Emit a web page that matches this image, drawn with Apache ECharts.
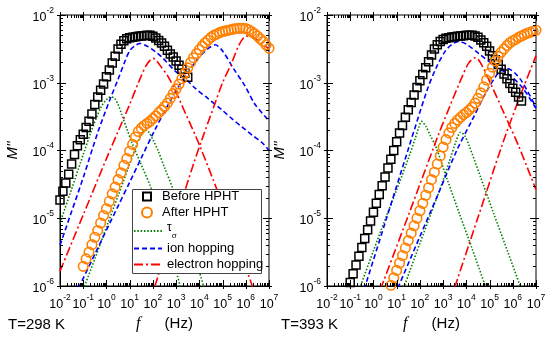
<!DOCTYPE html>
<html><head><meta charset="utf-8">
<script src="https://cdn.jsdelivr.net/npm/echarts@6/dist/echarts.min.js"></script>
<style>html,body{margin:0;padding:0;background:#fff}#c{width:550px;height:341px}</style>
</head><body><div id="c"></div>
<script>
// All pairs are [log10 f (Hz), log10 M'']
// ---- T = 298 K ----
const before298 = [[-2.000,-4.73],[-1.875,-4.60],[-1.750,-4.48],[-1.625,-4.35],[-1.500,-4.20],[-1.375,-4.06],[-1.250,-3.93],[-1.125,-3.84],[-1.000,-3.76],[-0.875,-3.66],[-0.750,-3.57],[-0.625,-3.46],[-0.500,-3.32],[-0.375,-3.21],[-0.250,-3.11],[-0.125,-3.02],[0.000,-2.91],[0.125,-2.81],[0.250,-2.71],[0.375,-2.61],[0.500,-2.50],[0.625,-2.43],[0.750,-2.38],[0.875,-2.35],[1.000,-2.335],[1.125,-2.33],[1.250,-2.32],[1.375,-2.315],[1.500,-2.31],[1.625,-2.305],[1.750,-2.30],[1.875,-2.30],[2.000,-2.315],[2.125,-2.34],[2.250,-2.375],[2.375,-2.415],[2.500,-2.46],[2.625,-2.52],[2.750,-2.575],[2.875,-2.62],[3.000,-2.68],[3.125,-2.74],[3.250,-2.80],[3.375,-2.86],[3.500,-2.92]];
const after298 = [[-1.000,-5.71],[-0.875,-5.60],[-0.750,-5.50],[-0.625,-5.39],[-0.500,-5.28],[-0.375,-5.18],[-0.250,-5.07],[-0.125,-4.96],[0.000,-4.86],[0.125,-4.75],[0.250,-4.64],[0.375,-4.54],[0.500,-4.43],[0.625,-4.33],[0.750,-4.22],[0.875,-4.12],[1.000,-4.01],[1.125,-3.91],[1.250,-3.80],[1.375,-3.72],[1.500,-3.67],[1.625,-3.63],[1.750,-3.60],[1.875,-3.57],[2.000,-3.53],[2.125,-3.49],[2.250,-3.44],[2.375,-3.40],[2.500,-3.35],[2.625,-3.30],[2.750,-3.23],[2.875,-3.16],[3.000,-3.09],[3.125,-3.02],[3.250,-2.94],[3.375,-2.86],[3.500,-2.78],[3.625,-2.70],[3.750,-2.63],[3.875,-2.57],[4.000,-2.51],[4.125,-2.46],[4.250,-2.41],[4.375,-2.37],[4.500,-2.33],[4.625,-2.30],[4.750,-2.28],[4.875,-2.26],[5.000,-2.245],[5.125,-2.235],[5.250,-2.225],[5.375,-2.215],[5.500,-2.205],[5.625,-2.20],[5.750,-2.195],[5.875,-2.195],[6.000,-2.20],[6.125,-2.22],[6.250,-2.245],[6.375,-2.275],[6.500,-2.31],[6.625,-2.35],[6.750,-2.39],[6.875,-2.44],[7.000,-2.49]];
const tauBefore298 = [[-2.0,-5.07],[-1.5,-4.57],[-1.0,-4.06],[-0.65,-3.71],[-0.4,-3.49],[-0.2,-3.34],[0.0,-3.25],[0.12,-3.215],[0.23,-3.21],[0.35,-3.23],[0.5,-3.32],[0.66,-3.47],[0.9,-3.70],[1.09,-3.88],[1.45,-4.17],[1.95,-4.58],[2.5,-5.18],[3.0,-5.78],[3.2,-6.03]];
const tauAfter298 = [[-1.0,-6.05],[-0.5,-5.60],[0.0,-5.13],[0.5,-4.67],[1.0,-4.20],[1.3,-3.92],[1.5,-3.76],[1.65,-3.70],[1.8,-3.72],[2.0,-3.84],[2.22,-4.00],[2.5,-4.25],[2.88,-4.58],[3.3,-5.0],[3.75,-5.5],[4.2,-6.02]];
const ionBefore298 = [[-2.0,-5.40],[-1.5,-4.90],[-1.0,-4.40],[-0.36,-3.72],[0.16,-3.24],[0.5,-2.95],[0.8,-2.68],[1.0,-2.53],[1.2,-2.46],[1.45,-2.42],[1.75,-2.46],[2.1,-2.54],[2.38,-2.62],[3.0,-2.84],[3.46,-2.96],[3.82,-3.08],[4.4,-3.24],[4.97,-3.40],[5.4,-3.53],[5.83,-3.65],[6.3,-3.78],[6.69,-3.88],[7.0,-4.0]];
const ionAfter298 = [[-1.2,-6.03],[-0.5,-5.53],[0.5,-4.82],[1.0,-4.47],[1.5,-4.11],[2.08,-3.70],[2.6,-3.36],[3.1,-3.06],[3.6,-2.80],[4.0,-2.62],[4.4,-2.49],[4.68,-2.44],[5.0,-2.53],[5.45,-2.78],[5.97,-3.05],[6.4,-3.32],[7.0,-3.56]];
const elecBefore298 = [[-2.0,-5.78],[-1.0,-4.95],[0.0,-4.12],[0.5,-3.72],[1.0,-3.32],[1.4,-2.98],[1.7,-2.75],[1.9,-2.66],[2.02,-2.64],[2.3,-2.74],[2.74,-2.96],[3.4,-3.45],[4.03,-3.94],[5.04,-4.83],[5.6,-5.35],[6.19,-5.91],[6.3,-6.02]];
const elecAfter298 = [[2.09,-6.0],[3.0,-5.0],[3.75,-4.2],[4.11,-3.84],[4.68,-3.30],[5.0,-3.0],[5.4,-2.70],[5.7,-2.45],[5.97,-2.32],[6.2,-2.31],[6.41,-2.35],[7.0,-2.50]];
// ---- T = 393 K ----
const before393 = [[-1.000,-5.95],[-0.875,-5.82],[-0.750,-5.69],[-0.625,-5.56],[-0.500,-5.43],[-0.375,-5.30],[-0.250,-5.17],[-0.125,-5.04],[0.000,-4.91],[0.125,-4.78],[0.250,-4.65],[0.375,-4.52],[0.500,-4.39],[0.625,-4.26],[0.750,-4.13],[0.875,-4.00],[1.000,-3.87],[1.125,-3.74],[1.250,-3.63],[1.375,-3.51],[1.500,-3.40],[1.625,-3.29],[1.750,-3.18],[1.875,-3.07],[2.000,-2.97],[2.125,-2.88],[2.250,-2.78],[2.375,-2.69],[2.500,-2.59],[2.625,-2.50],[2.750,-2.44],[2.875,-2.39],[3.000,-2.36],[3.125,-2.345],[3.250,-2.335],[3.375,-2.325],[3.500,-2.32],[3.625,-2.315],[3.750,-2.31],[3.875,-2.305],[4.000,-2.30],[4.125,-2.30],[4.250,-2.30],[4.375,-2.31],[4.500,-2.33],[4.625,-2.37],[4.750,-2.41],[4.875,-2.46],[5.000,-2.53],[5.125,-2.60],[5.250,-2.66],[5.375,-2.73],[5.500,-2.80],[5.625,-2.87],[5.750,-2.94],[5.875,-3.01],[6.000,-3.08],[6.125,-3.14],[6.250,-3.21],[6.375,-3.27]];
const after393 = [[0.750,-5.99],[0.875,-5.88],[1.000,-5.77],[1.125,-5.66],[1.250,-5.55],[1.375,-5.44],[1.500,-5.33],[1.625,-5.22],[1.750,-5.11],[1.875,-5.00],[2.000,-4.89],[2.125,-4.78],[2.250,-4.66],[2.375,-4.55],[2.500,-4.43],[2.625,-4.32],[2.750,-4.20],[2.875,-4.08],[3.000,-3.95],[3.125,-3.84],[3.250,-3.74],[3.375,-3.66],[3.500,-3.60],[3.625,-3.55],[3.750,-3.51],[3.875,-3.47],[4.000,-3.44],[4.125,-3.40],[4.250,-3.36],[4.375,-3.30],[4.500,-3.23],[4.625,-3.15],[4.750,-3.06],[4.875,-2.96],[5.000,-2.86],[5.125,-2.77],[5.250,-2.68],[5.375,-2.61],[5.500,-2.55],[5.625,-2.50],[5.750,-2.45],[5.875,-2.41],[6.000,-2.38],[6.125,-2.36],[6.250,-2.33],[6.375,-2.31],[6.500,-2.29],[6.625,-2.27],[6.750,-2.255],[6.875,-2.24],[7.000,-2.225]];
const tauBefore393 = [[-0.6,-6.04],[0.0,-5.48],[0.5,-5.02],[1.0,-4.58],[1.5,-4.12],[1.8,-3.82],[1.95,-3.66],[2.07,-3.57],[2.25,-3.64],[2.45,-3.78],[2.67,-3.93],[3.2,-4.45],[3.7,-4.93],[4.25,-5.45],[4.85,-6.03]];
const tauAfter393 = [[1.3,-6.03],[2.0,-5.37],[2.5,-4.91],[3.0,-4.44],[3.3,-4.13],[3.55,-3.87],[3.75,-3.73],[3.93,-3.78],[4.11,-3.92],[4.6,-4.38],[5.2,-4.95],[5.8,-5.51],[6.35,-6.03]];
const ionBefore393 = [[-0.4,-6.05],[0.5,-5.07],[1.5,-3.98],[2.31,-3.11],[2.7,-2.78],[3.1,-2.53],[3.4,-2.43],[3.67,-2.39],[4.0,-2.43],[4.54,-2.57],[5.26,-2.76],[5.83,-2.88],[6.41,-3.07],[7.0,-3.38]];
const ionAfter393 = [[1.05,-6.03],[2.0,-5.27],[2.74,-4.68],[3.6,-3.99],[4.25,-3.55],[4.82,-3.16],[5.26,-2.91],[5.5,-2.82],[5.76,-2.79],[6.1,-2.86],[6.41,-2.99],[7.0,-3.36]];
const elecBefore393 = [[0.3,-6.05],[1.5,-4.96],[2.74,-3.82],[3.25,-3.38],[3.82,-2.91],[4.1,-2.71],[4.39,-2.63],[4.6,-2.70],[5.11,-3.06],[5.69,-3.50],[6.26,-3.94],[7.0,-4.58]];
const elecAfter393 = [[3.5,-6.02],[4.5,-4.99],[5.54,-3.92],[6.2,-3.30],[7.0,-2.60]];
// axis decades
const xDecades = [-2,-1,0,1,2,3,4,5,6,7];
const yDecades = [-6,-5,-4,-3,-2];
const panelTitles = ['T=298 K','T=393 K'];

const toVal = a => a.map(p => [Math.pow(10,p[0]), Math.pow(10,p[1])]);
const FONT = 'Liberation Sans';
const GREEN='#008000', BLUE='#0000FF', RED='#FF0000', ORANGE='#FF8000';

const chart = echarts.init(document.getElementById('c'), null, {renderer:'canvas'});
const grids = [{left:60, top:15, width:209, height:271}, {left:327, top:15, width:209, height:271}];
grids.forEach(g => { g.show = true; g.borderColor = '#000'; g.borderWidth = 1; g.backgroundColor='transparent'; });

const supFmt = v => '{b|10}{s|' + Math.round(Math.log10(v)) + '}';
const labelRich = {
  b:{fontSize:12.5, fontFamily:FONT, color:'#000', lineHeight:18, verticalAlign:'bottom'},
  s:{fontSize:8.5, fontFamily:FONT, color:'#000', lineHeight:18, verticalAlign:'top'}
};
const xAxes = [0,1].map(i => ({
  type:'log', logBase:10, gridIndex:i, min:Math.pow(10,xDecades[0]), max:Math.pow(10,xDecades[xDecades.length-1]),
  axisLine:{show:true, lineStyle:{color:'#000', width:1}}, axisTick:{show:false}, splitLine:{show:false}, minorTick:{show:false},
  axisLabel:{formatter:supFmt, rich:labelRich, margin:7, showMinLabel:true, showMaxLabel:true, hideOverlap:false},
  name:'{i|f}{h|(Hz)}', nameLocation:'middle', nameGap:28,
  nameTextStyle:{rich:{i:{fontFamily:'Liberation Serif', fontStyle:'italic', fontSize:16, color:'#000', padding:[0,24,0,0]}, h:{fontFamily:FONT, fontSize:15, color:'#000'}}}
}));
const yAxes = [0,1].map(i => ({
  type:'log', logBase:10, gridIndex:i, min:Math.pow(10,yDecades[0]), max:Math.pow(10,yDecades[yDecades.length-1]),
  axisLine:{show:true, lineStyle:{color:'#000', width:1}}, axisTick:{show:false}, splitLine:{show:false},
  axisLabel:{formatter:supFmt, rich:labelRich, margin:6, showMinLabel:true, showMaxLabel:true},
  name:"M''", nameLocation:'middle', nameGap:40, nameRotate:90,
  nameTextStyle:{fontFamily:FONT, fontStyle:'italic', fontSize:15, color:'#000'}
}));

function tickRender(params, api) {
  const bl = api.coord([Math.pow(10,xDecades[0]), Math.pow(10,yDecades[0])]);
  const tr = api.coord([Math.pow(10,xDecades[xDecades.length-1]), Math.pow(10,yDecades[yDecades.length-1])]);
  const L=bl[0], B=bl[1], R=tr[0], T=tr[1];
  const ch = [];
  const ln = (x1,y1,x2,y2) => ch.push({type:'line', shape:{x1,y1,x2,y2}, style:{stroke:'#000', lineWidth:1}});
  for (const e of xDecades) for (let m=1; m<=9; m++) {
    if (e === xDecades[xDecades.length-1] && m>1) break;
    const px = Math.round(api.coord([m*Math.pow(10,e), Math.pow(10,-4)])[0]) + 0.5;
    const maj = m===1, inn = maj?6:3, out = maj?3:0;
    ln(px, B+out, px, B-inn); ln(px, T-out, px, T+inn);
  }
  for (const e of yDecades) for (let m=1; m<=9; m++) {
    if (e === yDecades[yDecades.length-1] && m>1) break;
    const py = Math.round(api.coord([1, m*Math.pow(10,e)])[1]) + 0.5;
    const maj = m===1, inn = maj?6:3, out = maj?3:0;
    ln(L-out, py, L+inn, py); ln(R+out, py, R-inn, py);
  }
  return {type:'group', children:ch};
}

const lineS = (name, data, i, color, type) => ({
  name, type:'line', xAxisIndex:i, yAxisIndex:i, data:toVal(data), symbol:'none', showSymbol:false,
  smooth:0.3, lineStyle:{color, width:1.6, type}, itemStyle:{color}, z:2, animation:false
});
const series = [];
const sets = [
  {b:before298, a:after298, tb:tauBefore298, ta:tauAfter298, ib:ionBefore298, ia:ionAfter298, eb:elecBefore298, ea:elecAfter298},
  {b:before393, a:after393, tb:tauBefore393, ta:tauAfter393, ib:ionBefore393, ia:ionAfter393, eb:elecBefore393, ea:elecAfter393}
];
sets.forEach((s,i) => {
  series.push(lineS('tau', s.tb, i, GREEN, [1.5,1.8]));
  series.push(lineS('tau', s.ta, i, GREEN, [1.5,1.8]));
  series.push(lineS('ion hopping', s.ib, i, BLUE, [5,3]));
  series.push(lineS('ion hopping', s.ia, i, BLUE, [5,3]));
  series.push(lineS('electron hopping', s.eb, i, RED, [9,3,2,3]));
  series.push(lineS('electron hopping', s.ea, i, RED, [9,3,2,3]));
  series.push({name:'Before HPHT', type:'scatter', xAxisIndex:i, yAxisIndex:i, data:toVal(s.b), symbol:'rect', symbolSize:8,
    itemStyle:{color:'transparent', borderColor:'#000', borderWidth:1.5, opacity:1}, z:3, animation:false});
  series.push({name:'After HPHT', type:'scatter', xAxisIndex:i, yAxisIndex:i, data:toVal(s.a), symbol:'circle', symbolSize:9.5,
    itemStyle:{color:'transparent', borderColor:ORANGE, borderWidth:1.6, opacity:1}, z:3, animation:false});
  series.push({type:'custom', xAxisIndex:i, yAxisIndex:i, data:[[1,Math.pow(10,-4)]], renderItem:tickRender, silent:true, z:5, clip:false, animation:false});
});

const legTS = {fontFamily:FONT, fontSize:13, color:'#000'};
const legBase = {orient:'vertical', padding:0, itemGap:0, selectedMode:false, z:20, textStyle:legTS};
const noSym = {color:'transparent', borderColor:'transparent', borderWidth:0, opacity:0};
const legends = [
  Object.assign({}, legBase, {data:['Before HPHT'], left:142, top:190, itemWidth:8, itemHeight:8, textStyle:Object.assign({}, legTS, {padding:[0,0,0,6]})}),
  Object.assign({}, legBase, {data:['After HPHT'], left:141, top:206, itemWidth:10, itemHeight:10, textStyle:Object.assign({}, legTS, {padding:[0,0,0,5]})}),
  Object.assign({}, legBase, {data:['tau'], left:133, top:222, itemWidth:28, itemHeight:12, itemStyle:noSym,
     formatter:()=>'{t|τ}{s|σ}', textStyle:Object.assign({}, legTS, {rich:{t:{fontSize:12, fontFamily:FONT, color:'#000', lineHeight:18, verticalAlign:'top'}, s:{fontSize:8, fontFamily:FONT, color:'#000', lineHeight:18, verticalAlign:'bottom'}}})}),
  Object.assign({}, legBase, {data:['ion hopping'], left:133, top:242, itemWidth:28, itemHeight:12, itemStyle:noSym}),
  Object.assign({}, legBase, {data:['electron hopping'], left:133, top:258, itemWidth:28, itemHeight:12, itemStyle:noSym})
];

const option = {
  animation:false,
  backgroundColor:'#fff',
  grid:grids, xAxis:xAxes, yAxis:yAxes, series, legend:legends,
  graphic:{z:10, elements:[
    {type:'rect', z:10, shape:{x:132.5, y:189.5, width:129, height:84}, style:{fill:'#fff', stroke:'#444', lineWidth:1}},
    {type:'text', z:10, left:8, top:317, style:{text:panelTitles[0], font:'15px "Liberation Sans"', fill:'#000'}},
    {type:'text', z:10, left:281, top:317, style:{text:panelTitles[1], font:'15px "Liberation Sans"', fill:'#000'}}
  ]}
};
chart.setOption(option);
</script></body></html>
